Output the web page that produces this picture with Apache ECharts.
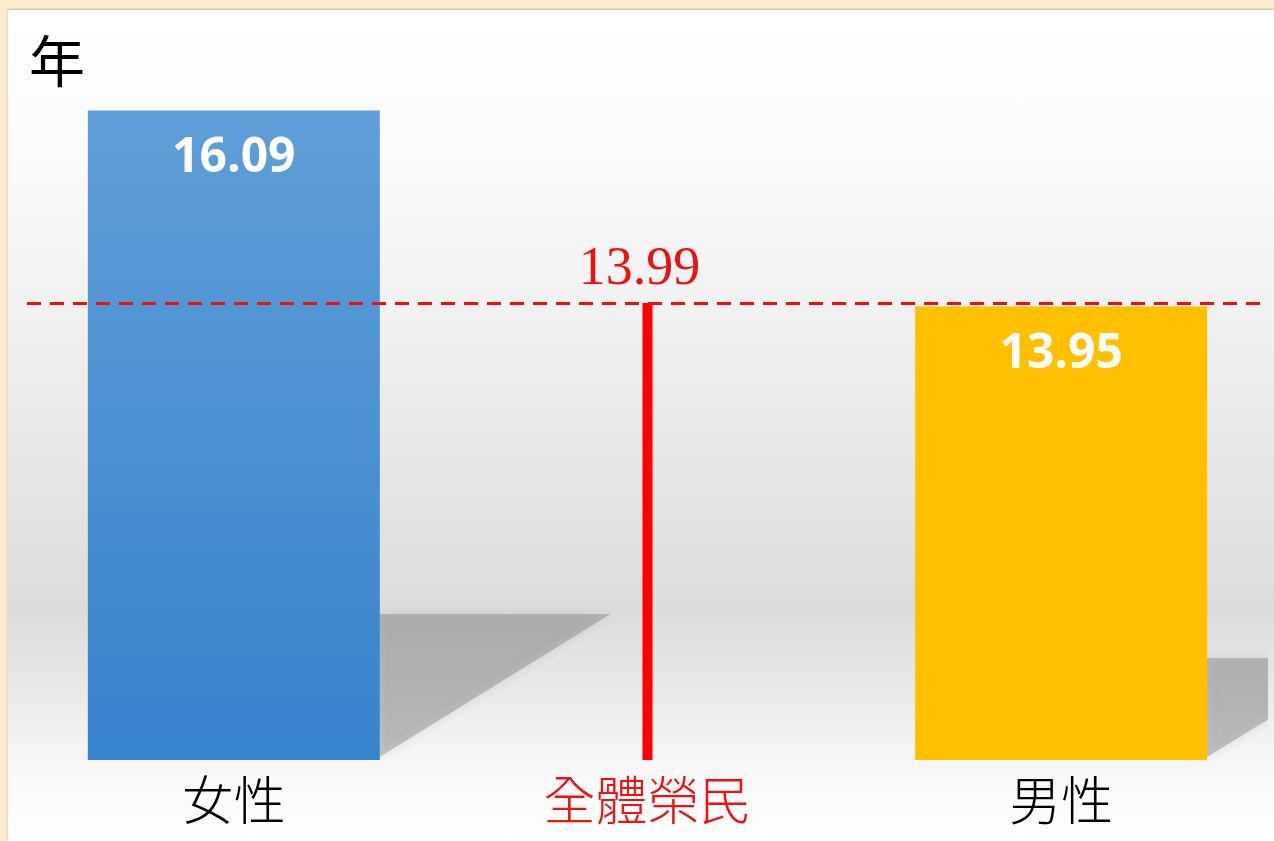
<!DOCTYPE html>
<html>
<head>
<meta charset="utf-8">
<script src="https://cdn.jsdelivr.net/npm/echarts@6/dist/echarts.min.js"></script>
<style>
  html, body { margin: 0; padding: 0; width: 1274px; height: 841px; overflow: hidden; }
  body { background: #fbebcf; position: relative; }
  #panel {
    position: absolute; left: 8px; top: 10px; width: 1266px; height: 831px;
    box-shadow: 0 -1px 2px rgba(0,0,0,0.25);
    background: linear-gradient(to bottom, #ffffff 0%, #fcfcfc 14%, #eeeeee 42%, #dcdcdc 72%, #e6e6e6 80%, #f6f6f6 90%, #ffffff 100%);
  }
  #chart { position: absolute; left: 0; top: 0; width: 1274px; height: 841px; }
</style>
</head>
<body>
<div id="panel"></div>
<div id="chart"></div>
<script>
// 資料
const categories = ['女性', '全體榮民', '男性'];
const groupValues = [16.09, '-', 13.95];
const allValues = ['-', 13.99, '-'];
const overallAvg = 13.99;
const unitLabel = '年';

const chart = echarts.init(document.getElementById('chart'));

const blueGrad = new echarts.graphic.LinearGradient(0, 0, 0, 1, [
  { offset: 0, color: '#5f9ed8' },
  { offset: 1, color: '#3783cc' }
]);
const barColors = [blueGrad, null, '#ffc000'];

const option = {
  animation: false,
  backgroundColor: 'transparent',
  graphic: [{
    type: 'text', left: 29, top: 33,
    style: { text: unitLabel, fontSize: 56, fill: '#000', fontFamily: 'Noto Sans CJK TC' }
  }],
  grid: { left: 27, right: 6, top: 73, bottom: 81 },
  xAxis: [{
    type: 'category',
    data: categories,
    axisLine: { show: false },
    axisTick: { show: false },
    axisLabel: {
      margin: 14,
      fontSize: 52,
      fontWeight: 300,
      fontFamily: 'Noto Sans CJK TC',
      color: function (v) { return v === '全體榮民' ? '#ee1111' : '#000'; }
    }
  }, {
    type: 'category', data: categories, show: false
  }],
  yAxis: {
    type: 'value', min: 9, max: 16.5, show: false
  },
  series: [{
    // 陰影
    type: 'custom',
    xAxisIndex: 0,
    z: 1,
    silent: true,
    data: groupValues.map(function (v, i) { return [i, v]; }).filter(function (d) { return d[1] !== '-'; }),
    renderItem: function (params, api) {
      const top = api.coord([api.value(0), api.value(1)]);
      const base = api.coord([api.value(0), 9]);
      const bw = api.size([1, 0])[0] * 0.705;
      const xr = top[0] + bw / 2;
      const h = (base[1] - top[1]) * 0.225;
      const w = h * 1.58;
      return {
        type: 'polygon',
        shape: { points: [[xr, base[1] - h], [xr + w, base[1] - h], [xr, base[1] - 3]] },
        style: { fill: 'rgba(110,110,110,0.36)', shadowBlur: 10, shadowColor: 'rgba(110,110,110,0.4)' }
      };
    },
    clip: true
  }, {
    type: 'bar',
    xAxisIndex: 0,
    barWidth: 292,
    z: 3,
    data: groupValues.map(function (v, i) {
      return v === '-' ? v : { value: v, itemStyle: { color: barColors[i] } };
    }),
    label: {
      show: true,
      position: 'insideTop',
      distance: 24,
      color: '#fff',
      fontSize: 48,
      fontWeight: 'bold',
      fontFamily: 'Open Sans',
      formatter: function (p) { return p.value.toFixed(2); }
    },
    markLine: {
      silent: true,
      symbol: 'none',
      label: { show: false },
      lineStyle: { color: '#ee1111', type: [14, 9], width: 3 },
      data: [{ yAxis: overallAvg }]
    }
  }, {
    type: 'bar',
    xAxisIndex: 1,
    barWidth: 10,
    z: 4,
    itemStyle: { color: '#ff0000' },
    data: allValues,
    label: {
      show: true,
      position: 'top',
      distance: 6,
      offset: [-8, 0],
      color: '#ee1111',
      fontSize: 54,
      fontFamily: 'Liberation Serif',
      formatter: function (p) { return p.value.toFixed(2); }
    }
  }]
};
chart.setOption(option);
</script>
</body>
</html>
